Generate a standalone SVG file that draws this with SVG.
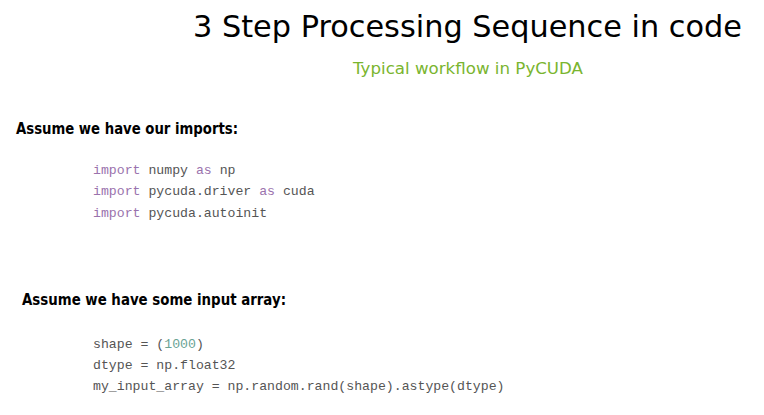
<svg xmlns="http://www.w3.org/2000/svg" width="764" height="415" viewBox="0 0 764 415">
<style>
.title{font-family:"DejaVu Sans","Liberation Sans",sans-serif;font-size:31px;fill:#000}
.sub{font-family:"DejaVu Sans","Liberation Sans",sans-serif;font-size:15px;fill:#7ab52f}
.h{font-family:"DejaVu Sans","Liberation Sans",sans-serif;font-size:15px;font-weight:bold;fill:#000}
.code{font-family:"Liberation Mono",monospace;font-size:13.2px;fill:#555}
.kw{fill:#9a72ad}
.num{fill:#6aa394}
</style>
<rect width="764" height="415" fill="#fff"/>
<g id="title">
<text class="title" x="193" y="37" textLength="549" lengthAdjust="spacingAndGlyphs">3 Step Processing Sequence in code</text>
<text class="sub" x="353" y="74" textLength="230" lengthAdjust="spacingAndGlyphs">Typical workflow in PyCUDA</text>
</g>
<g id="imports">
<text class="h" x="16" y="134" textLength="222" lengthAdjust="spacingAndGlyphs">Assume we have our imports:</text>
<text class="code" x="93" y="174"><tspan class="kw">import</tspan> numpy <tspan class="kw">as</tspan> np</text>
<text class="code" x="93" y="195"><tspan class="kw">import</tspan> pycuda.driver <tspan class="kw">as</tspan> cuda</text>
<text class="code" x="93" y="217"><tspan class="kw">import</tspan> pycuda.autoinit</text>
</g>
<g id="input">
<text class="h" x="22" y="305" textLength="264" lengthAdjust="spacingAndGlyphs">Assume we have some input array:</text>
<text class="code" x="93" y="348">shape = (<tspan class="num">1000</tspan>)</text>
<text class="code" x="93" y="369">dtype = np.float32</text>
<text class="code" x="93" y="390">my_input_array = np.random.rand(shape).astype(dtype)</text>
</g>
</svg>
